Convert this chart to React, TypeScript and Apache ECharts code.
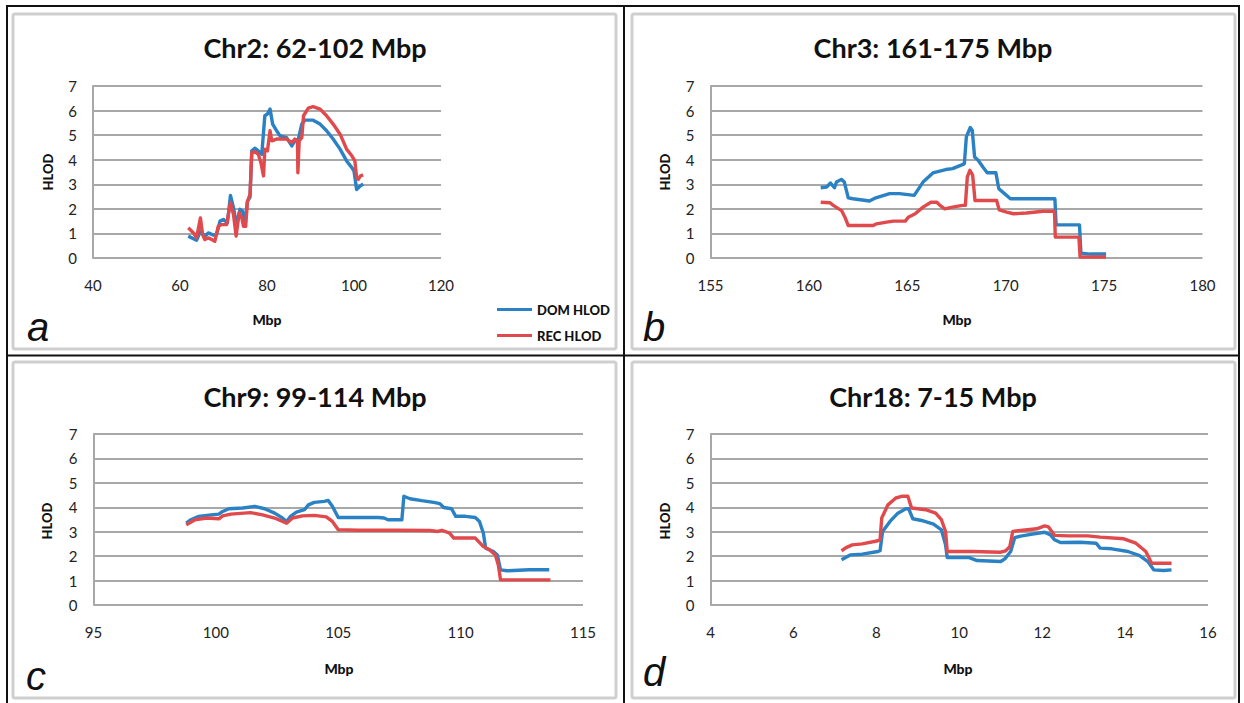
import React, { useEffect, useRef } from "react";
import * as echarts from "echarts";

// ---- Data (Mbp positions and HLOD values) ----
const chr2DomX = [61.9, 63.8, 64.7, 65.7, 66.5, 67.7, 68.4, 69.2, 70.0, 70.9, 71.6, 72.3, 73.0, 73.8, 74.4, 74.9, 75.5, 76.1, 76.5, 77.2, 78.0, 78.8, 79.5, 80.1, 80.7, 81.3, 82.2, 83.0, 84.5, 85.7, 86.4, 87.2, 88.0, 88.7, 90.6, 92.2, 93.7, 95.2, 96.8, 98.3, 99.5, 100.0, 100.6, 101.4, 102.1];
const chr2DomY = [0.89, 0.72, 1.09, 0.89, 1.02, 0.93, 0.95, 1.5, 1.57, 1.43, 2.55, 2.04, 1.36, 1.98, 1.9, 1.36, 2.3, 2.48, 4.36, 4.47, 4.36, 4.22, 5.79, 5.86, 6.06, 5.45, 5.18, 4.97, 4.9, 4.56, 4.77, 4.84, 5.45, 5.61, 5.61, 5.45, 5.18, 4.84, 4.43, 3.95, 3.68, 3.54, 2.79, 2.93, 3.02];
const chr2RecX = [61.9, 63.1, 63.8, 64.7, 65.2, 65.7, 66.5, 67.3, 68.0, 68.8, 69.6, 70.7, 71.6, 72.3, 72.9, 73.6, 74.2, 74.6, 75.1, 75.5, 76.1, 76.5, 77.2, 78.0, 78.6, 79.2, 79.5, 80.1, 80.7, 81.1, 82.2, 84.5, 85.7, 86.4, 87.0, 87.1, 87.4, 88.0, 88.4, 89.5, 90.6, 92.2, 93.7, 95.2, 96.8, 98.3, 99.5, 100.2, 100.6, 101.0, 101.5, 102.1];
const chr2RecY = [1.23, 1.02, 0.82, 1.63, 0.95, 0.75, 0.82, 0.75, 0.68, 1.29, 1.36, 1.36, 2.25, 1.77, 0.89, 1.84, 1.63, 1.29, 1.29, 2.3, 2.59, 4.29, 4.33, 4.22, 3.88, 3.34, 4.43, 4.36, 5.18, 4.77, 4.84, 4.84, 4.7, 4.84, 4.77, 3.47, 4.77, 4.9, 5.79, 6.1, 6.16, 6.06, 5.79, 5.45, 5.04, 4.43, 4.16, 3.95, 3.27, 3.2, 3.34, 3.38];

const chr3DomX = [160.6, 160.9, 161.1, 161.3, 161.4, 161.65, 161.8, 162.0, 162.24, 163.08, 163.4, 164.1, 164.6, 165.35, 165.8, 166.3, 166.95, 167.3, 167.8, 167.9, 168.0, 168.2, 168.3, 168.42, 168.6, 168.84, 169.06, 169.5, 169.65, 169.85, 170.24, 170.66, 171.67, 172.5, 172.56, 173.75, 173.82, 174.3, 175.1];
const chr3DomY = [2.86, 2.89, 3.05, 2.86, 3.09, 3.2, 3.09, 2.45, 2.41, 2.32, 2.45, 2.62, 2.62, 2.55, 3.09, 3.46, 3.6, 3.64, 3.8, 3.84, 4.93, 5.31, 5.2, 4.11, 3.98, 3.7, 3.47, 3.47, 2.82, 2.68, 2.41, 2.41, 2.41, 2.41, 1.35, 1.35, 0.2, 0.16, 0.16];
const chr3RecX = [160.6, 161.07, 161.24, 161.44, 161.66, 161.83, 162.0, 162.26, 163.27, 163.44, 163.95, 164.3, 164.9, 165.05, 165.4, 165.8, 166.2, 166.5, 166.66, 166.9, 167.3, 167.8, 167.95, 168.05, 168.18, 168.32, 168.44, 169.03, 169.54, 169.67, 170.05, 170.39, 171.06, 171.9, 172.48, 172.52, 173.72, 173.78, 175.1];
const chr3RecY = [2.27, 2.25, 2.14, 2.04, 1.93, 1.66, 1.32, 1.32, 1.32, 1.39, 1.46, 1.5, 1.5, 1.66, 1.8, 2.07, 2.27, 2.27, 2.14, 2.0, 2.07, 2.14, 2.14, 3.3, 3.57, 3.37, 2.34, 2.34, 2.34, 1.96, 1.87, 1.8, 1.83, 1.9, 1.9, 0.85, 0.85, 0.04, 0.04];

const chr9DomX = [98.79, 98.98, 99.3, 99.8, 100.12, 100.28, 100.53, 101.1, 101.59, 101.99, 102.4, 102.72, 102.89, 103.05, 103.29, 103.62, 103.78, 104.02, 104.43, 104.59, 104.76, 105.0, 105.49, 106.63, 106.87, 107.03, 107.6, 107.68, 107.93, 108.41, 108.9, 109.15, 109.31, 109.63, 109.8, 110.2, 110.6, 110.77, 110.93, 111.02, 111.34, 111.5, 111.63, 111.9, 112.8, 113.62];
const chr9DomY = [3.35, 3.49, 3.63, 3.69, 3.72, 3.83, 3.94, 3.97, 4.04, 3.94, 3.76, 3.56, 3.42, 3.63, 3.8, 3.9, 4.1, 4.2, 4.24, 4.28, 4.04, 3.58, 3.58, 3.58, 3.56, 3.49, 3.49, 4.45, 4.35, 4.27, 4.2, 4.15, 3.99, 3.94, 3.63, 3.63, 3.58, 3.42, 2.94, 2.33, 2.19, 2.05, 1.44, 1.4, 1.44, 1.44];
const chr9RecX = [98.79, 99.15, 99.63, 100.12, 100.28, 100.61, 101.42, 101.91, 102.4, 102.89, 103.13, 103.54, 104.02, 104.51, 104.76, 105.0, 105.81, 107.44, 108.74, 109.07, 109.23, 109.55, 109.72, 110.6, 110.93, 111.18, 111.42, 111.54, 111.63, 112.3, 113.67];
const chr9RecY = [3.28, 3.49, 3.56, 3.53, 3.65, 3.72, 3.78, 3.69, 3.56, 3.35, 3.56, 3.65, 3.67, 3.61, 3.42, 3.08, 3.06, 3.06, 3.05, 3.01, 3.06, 2.94, 2.74, 2.74, 2.39, 2.26, 2.05, 1.64, 1.03, 1.03, 1.03];

const chr18DomX = [7.16, 7.37, 7.66, 8.04, 8.09, 8.15, 8.33, 8.52, 8.71, 8.78, 8.88, 9.09, 9.38, 9.57, 9.67, 9.71, 10.24, 10.43, 11.0, 11.1, 11.24, 11.34, 11.48, 11.77, 12.06, 12.2, 12.3, 12.44, 12.92, 13.3, 13.4, 13.68, 14.07, 14.35, 14.55, 14.69, 14.93, 15.12];
const chr18DomY = [1.85, 2.05, 2.08, 2.19, 2.22, 3.01, 3.42, 3.76, 3.94, 3.94, 3.53, 3.46, 3.31, 3.08, 2.46, 1.94, 1.94, 1.82, 1.78, 1.89, 2.19, 2.76, 2.82, 2.9, 2.98, 2.87, 2.67, 2.56, 2.57, 2.53, 2.33, 2.3, 2.19, 2.02, 1.78, 1.44, 1.41, 1.44];
const chr18RecX = [7.16, 7.27, 7.42, 7.66, 8.04, 8.09, 8.13, 8.28, 8.47, 8.61, 8.76, 8.85, 9.19, 9.43, 9.57, 9.67, 9.71, 10.33, 11.0, 11.12, 11.22, 11.29, 11.48, 11.87, 12.06, 12.15, 12.3, 12.63, 13.1, 13.4, 13.97, 14.26, 14.5, 14.64, 14.93, 15.12];
const chr18RecY = [2.22, 2.35, 2.46, 2.5, 2.63, 2.67, 3.56, 4.1, 4.38, 4.45, 4.45, 3.97, 3.9, 3.76, 3.49, 3.01, 2.19, 2.19, 2.16, 2.22, 2.39, 3.01, 3.05, 3.12, 3.24, 3.2, 2.85, 2.83, 2.83, 2.78, 2.71, 2.53, 2.19, 1.71, 1.71, 1.71];

const panelTitles = ["Chr2: 62-102 Mbp", "Chr3: 161-175 Mbp", "Chr9: 99-114 Mbp", "Chr18: 7-15 Mbp"];
const panelLetters = ["a", "b", "c", "d"];
const xMin = [40, 155, 95, 4];
const xMax = [120, 180, 115, 16];
const xStep = [20, 5, 5, 2];
const yTicks = { min: 0, max: 7, interval: 1 };
const seriesNames = ["DOM HLOD", "REC HLOD"];

const DOM_COLOR = "#2a82c4";
const REC_COLOR = "#e04a4c";
const FONT = "Lato, 'Open Sans', sans-serif";

const pairs = (xs: number[], ys: number[]) => xs.map((x, i) => [x, ys[i]]);

export default function App() {
  const ref = useRef<HTMLDivElement>(null);
  useEffect(() => {
    const chart = echarts.init(ref.current!, undefined, { renderer: "svg" });

    const grids = [
      { left: 93, top: 86, width: 348, height: 172 },
      { left: 710.5, top: 86, width: 492, height: 172 },
      { left: 93.5, top: 434, width: 489.5, height: 171 },
      { left: 710.5, top: 434, width: 497.5, height: 171 },
    ];
    const titlePos = [[315, 47], [933, 47], [315, 396], [933, 396]];
    const hlodPos = [[48, 172], [665, 172], [47, 521], [665, 521]];
    const mbpPos = [[267, 319], [957, 319], [339, 668], [958, 668]];
    const letterPos = [[38, 327], [654, 327], [36, 676], [654, 672]];
    const boxes = [[13, 14, 603, 335], [632, 14, 603, 335], [13, 362, 603, 336], [632, 362, 603, 336]];

    const data = [
      [pairs(chr2DomX, chr2DomY), pairs(chr2RecX, chr2RecY)],
      [pairs(chr3DomX, chr3DomY), pairs(chr3RecX, chr3RecY)],
      [pairs(chr9DomX, chr9DomY), pairs(chr9RecX, chr9RecY)],
      [pairs(chr18DomX, chr18DomY), pairs(chr18RecX, chr18RecY)],
    ];

    const series: any[] = [];
    data.forEach((pair, i) => {
      pair.forEach((d, k) => {
        series.push({
          type: "line",
          name: seriesNames[k],
          xAxisIndex: i,
          yAxisIndex: i,
          data: d,
          showSymbol: false,
          symbol: "none",
          lineStyle: { width: 3.4, color: k === 0 ? DOM_COLOR : REC_COLOR, join: "round" },
          itemStyle: { color: k === 0 ? DOM_COLOR : REC_COLOR },
          z: k === 0 ? 2 : 3,
        });
      });
    });

    const graphic: any[] = [];
    boxes.forEach((b) => {
      graphic.push({
        type: "rect",
        shape: { x: b[0], y: b[1], width: b[2], height: b[3], r: 2 },
        style: { fill: "#fff", stroke: "#cfcfcf", lineWidth: 3 },
        z: -10,
      });
    });
    graphic.push({ type: "rect", shape: { x: 7, y: 6, width: 1232, height: 700 }, style: { fill: "none", stroke: "#111", lineWidth: 2 }, z: -5 });
    graphic.push({ type: "line", shape: { x1: 624, y1: 6, x2: 624, y2: 703 }, style: { stroke: "#111", lineWidth: 2 }, z: -5 });
    graphic.push({ type: "line", shape: { x1: 7, y1: 355.5, x2: 1239, y2: 355.5 }, style: { stroke: "#111", lineWidth: 2 }, z: -5 });

    for (let i = 0; i < 4; i++) {
      graphic.push({
        type: "text", x: titlePos[i][0], y: titlePos[i][1],
        style: { text: panelTitles[i], font: `bold 27px ${FONT}`, fill: "#111", textAlign: "center", textVerticalAlign: "middle" },
      });
      graphic.push({
        type: "text", x: hlodPos[i][0], y: hlodPos[i][1], rotation: Math.PI / 2,
        style: { text: "HLOD", font: `900 13px ${FONT}`, fill: "#111", textAlign: "center", textVerticalAlign: "middle" },
      });
      graphic.push({
        type: "text", x: mbpPos[i][0], y: mbpPos[i][1],
        style: { text: "Mbp", font: `900 14px ${FONT}`, fill: "#111", textAlign: "center", textVerticalAlign: "middle" },
      });
      graphic.push({
        type: "text", x: letterPos[i][0], y: letterPos[i][1],
        style: { text: panelLetters[i], font: `italic 40px 'Liberation Sans', Arial, sans-serif`, fill: "#111", textAlign: "center", textVerticalAlign: "middle" },
      });
    }

    chart.setOption({
      animation: false,
      backgroundColor: "#fff",
      grid: grids,
      xAxis: grids.map((_, i) => ({
        type: "value", gridIndex: i, min: xMin[i], max: xMax[i], interval: xStep[i],
        axisLine: { show: false }, axisTick: { show: false }, splitLine: { show: false },
        axisLabel: { margin: 19, fontSize: 15, color: "#222", fontFamily: FONT },
      })),
      yAxis: grids.map((_, i) => ({
        type: "value", gridIndex: i, min: yTicks.min, max: yTicks.max, interval: yTicks.interval,
        axisLine: { show: true, lineStyle: { color: "#a8a8a8", width: 2 } },
        axisTick: { show: false },
        splitLine: { show: true, lineStyle: { color: "#a8a8a8", width: 2 } },
        axisLabel: { margin: 16, fontSize: 15, color: "#222", fontFamily: FONT },
      })),
      legend: {
        data: seriesNames, orient: "vertical", left: 492, top: 298,
        icon: "rect", itemWidth: 35, itemHeight: 3, itemGap: 13,
        textStyle: { fontFamily: FONT, fontWeight: 900, fontSize: 13, color: "#111" },
      },
      graphic,
      series,
    });
    return () => chart.dispose();
  }, []);
  return <div ref={ref} style={{ position: "absolute", left: 0, top: 0, width: 1244, height: 703 }} />;
}
